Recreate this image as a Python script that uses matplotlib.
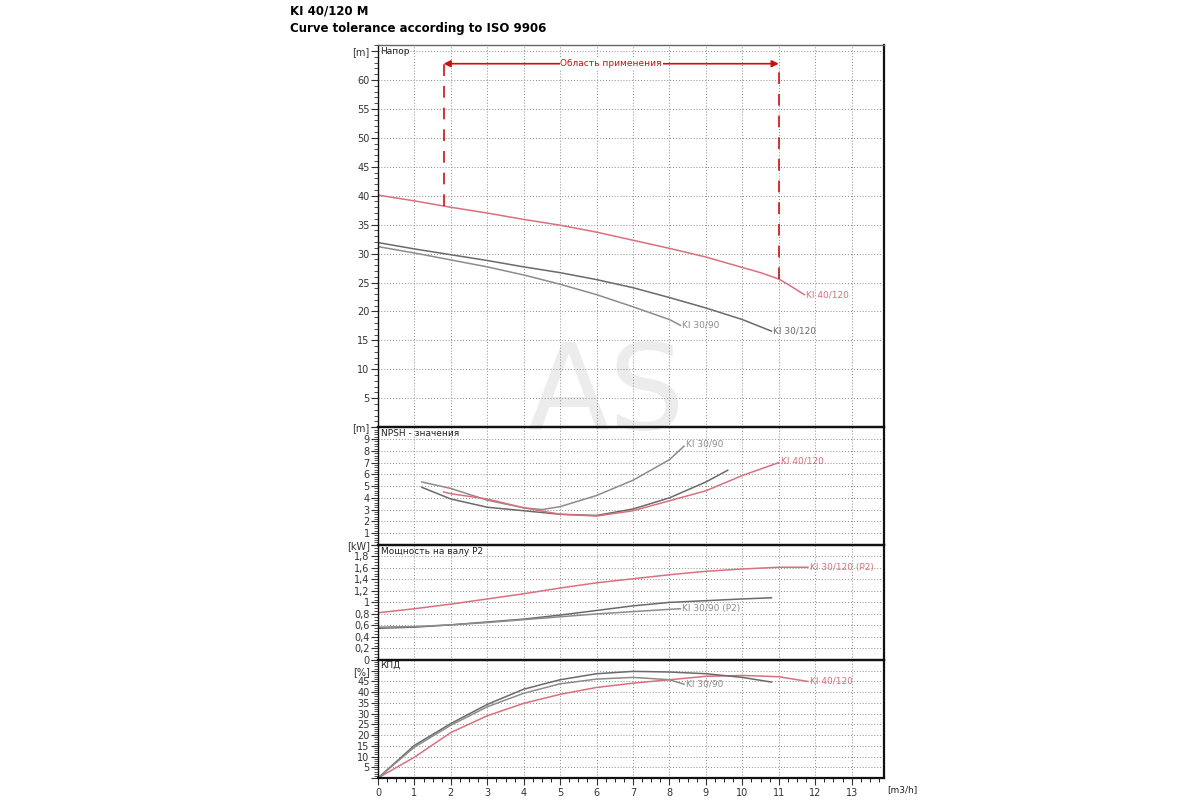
import numpy as np
import matplotlib.pyplot as plt
from matplotlib.ticker import MultipleLocator, FuncFormatter

# flow, m3/h
q_40_120 = [0, 1, 2, 3, 4, 5, 6, 7, 8, 9, 10, 10.5, 11, 11.3, 11.7]
q_30_120 = [0, 1, 2, 3, 4, 5, 6, 7, 8, 9, 10, 10.8]
q_30_90 = [0, 1, 2, 3, 4, 5, 6, 7, 8, 8.3]

# head, m
h_40_120 = [40.1, 39.1, 38.0, 37.0, 35.9, 34.9, 33.7, 32.3, 30.9, 29.4, 27.6, 26.7, 25.6, 24.5, 22.9]
h_30_120 = [31.9, 30.8, 29.8, 28.8, 27.7, 26.7, 25.5, 24.1, 22.4, 20.6, 18.6, 16.6]
h_30_90 = [31.2, 30.1, 28.9, 27.7, 26.3, 24.7, 22.9, 20.8, 18.6, 17.6]

# NPSH, m
npsh_q_40_120 = [1.8, 2, 3, 4, 5, 6, 7, 8, 9, 10, 11]
npsh_40_120 = [4.5, 4.35, 3.9, 3.15, 2.6, 2.45, 2.9, 3.75, 4.6, 5.9, 7.0]
npsh_q_30_120 = [1.2, 2, 3, 4, 5, 6, 7, 8, 9, 9.6]
npsh_30_120 = [4.9, 3.9, 3.2, 2.9, 2.6, 2.5, 3.05, 4.0, 5.35, 6.35]
npsh_q_30_90 = [1.2, 2, 3, 4, 4.5, 5, 6, 7, 8, 8.4]
npsh_30_90 = [5.35, 4.8, 3.8, 3.15, 3.0, 3.25, 4.2, 5.5, 7.25, 8.4]

# shaft power P2, kW
p_q_40_120 = [0, 1, 2, 3, 4, 5, 6, 7, 8, 9, 10, 11, 11.8]
p_40_120 = [0.82, 0.89, 0.97, 1.06, 1.15, 1.25, 1.34, 1.41, 1.48, 1.54, 1.58, 1.61, 1.61]
p_30_120 = [0.55, 0.57, 0.61, 0.66, 0.71, 0.78, 0.86, 0.94, 1.0, 1.03, 1.06, 1.08]
p_30_90 = [0.57, 0.58, 0.61, 0.65, 0.70, 0.75, 0.80, 0.84, 0.88, 0.89]

# efficiency, %
e_q_40_120 = [0, 1, 2, 3, 4, 5, 6, 7, 8, 9, 10, 11, 11.8]
e_40_120 = [0, 9.7, 21.2, 29.0, 34.8, 39.0, 42.2, 44.2, 45.8, 47.4, 47.8, 47.2, 45.0]
e_30_120 = [0, 15.2, 25.4, 34.3, 41.4, 45.8, 48.6, 49.7, 49.4, 48.6, 46.9, 44.7]
e_q_30_90 = [0, 1, 2, 3, 4, 5, 6, 7, 8, 8.4]
e_30_90 = [0, 14.4, 24.6, 33.2, 39.5, 43.9, 46.1, 46.9, 45.8, 43.7]

range_q = [1.8, 11.0]
range_top = 62.8

red = "#d9707e"
gray_dark = "#6a6a6a"
gray_light = "#8c8c8c"
range_red = "#cc1010"

fig = plt.figure(figsize=(12, 8), dpi=100)
fig.patch.set_facecolor("white")

left, width = 0.315, 0.422
panels = [
    (0.466, 0.4775),   # head
    (0.319, 0.1475),   # NPSH
    (0.175, 0.144),    # power
    (0.0275, 0.1475),  # efficiency
]
axes = [fig.add_axes([left, b, width, h]) for b, h in panels]
ax_h, ax_n, ax_p, ax_e = axes


def style(ax, ymax, major, minor, title):
    ax.set_facecolor("none")
    ax.set_xlim(0, 13.9)
    ax.set_ylim(0, ymax)
    ax.xaxis.set_major_locator(MultipleLocator(1))
    ax.yaxis.set_major_locator(MultipleLocator(major))
    ax.yaxis.set_minor_locator(MultipleLocator(minor))
    ax.grid(True, which="major", color="#8a8a8a", linestyle=(0, (1, 2)), linewidth=0.7)
    ax.tick_params(axis="y", which="major", direction="out", length=5, width=0.8,
                   labelsize=7, colors="#333333", pad=1)
    ax.tick_params(axis="y", which="minor", direction="out", length=3, width=0.6, colors="#333333")
    ax.tick_params(axis="x", which="both", bottom=False, labelbottom=False)
    for s in ["left", "top", "bottom", "right"]:
        ax.spines[s].set_color("#111111")
        ax.spines[s].set_linewidth(1.6)
    ax.spines["left"].set_linewidth(1.0)
    ax.text(0.005, 0.995 if ymax > 20 else 0.985, title, transform=ax.transAxes,
            fontsize=6.5, va="top", ha="left", color="#222222")


def fmt(unit_at, unit, hide_zero=False, comma=False):
    def f(v, p):
        if abs(v - unit_at) < 1e-6:
            return unit
        if v > unit_at + 1e-6 or (hide_zero and abs(v) < 1e-6):
            return ""
        s = "%g" % round(v, 2)
        return s.replace(".", ",") if comma else s
    return FuncFormatter(f)


style(ax_h, 66, 5, 1, "Напор")
style(ax_n, 10.05, 1, 0.2, "NPSH - значения")
style(ax_p, 2.0, 0.2, 0.05, "Мощность на валу P2")
style(ax_e, 55, 5, 1, "КПД")
ax_h.spines["top"].set_color("#666666")
ax_h.spines["top"].set_linewidth(1.0)
ax_h.yaxis.set_major_formatter(fmt(65, "[m]", hide_zero=True))
ax_n.yaxis.set_major_formatter(fmt(10, "[m]", hide_zero=True))
ax_p.yaxis.set_major_formatter(fmt(2.0, "[kW]", comma=True))
ax_e.yaxis.set_major_formatter(fmt(50, "[%]", hide_zero=True))

# bottom x axis on efficiency panel
ax_e.xaxis.set_minor_locator(MultipleLocator(0.25))
ax_e.tick_params(axis="x", which="major", bottom=True, labelbottom=True, direction="out",
                 length=5, width=0.8, labelsize=7, colors="#333333", pad=2)
ax_e.tick_params(axis="x", which="minor", bottom=True, direction="out", length=3, width=0.6)
ax_e.text(1.005, -0.06, "[m3/h]", transform=ax_e.transAxes, fontsize=6.5, va="top",
          ha="left", color="#222222")

lw = 1.1


def lab(ax, x, y, text, color, dx=0.05, dy=0.0):
    ax.text(x + dx, y + dy, text, fontsize=6.5, color=color, va="center", ha="left")


# head
ax_h.plot(q_40_120, h_40_120, color=red, lw=lw)
ax_h.plot(q_30_120, h_30_120, color=gray_dark, lw=lw)
ax_h.plot(q_30_90, h_30_90, color=gray_light, lw=lw)
lab(ax_h, q_40_120[-1], h_40_120[-1], "KI 40/120", red)
lab(ax_h, q_30_120[-1], h_30_120[-1], "KI 30/120", gray_dark)
lab(ax_h, q_30_90[-1], h_30_90[-1], "KI 30/90", gray_light)

# application range
h_at_lo = np.interp(range_q[0], q_40_120, h_40_120)
h_at_hi = np.interp(range_q[1], q_40_120, h_40_120)
ax_h.plot([range_q[0]] * 2, [h_at_lo, range_top], color=range_red, lw=1.2, dashes=(7, 6))
ax_h.plot([range_q[1]] * 2, [h_at_hi, range_top], color=range_red, lw=1.2, dashes=(7, 6))
ax_h.annotate("", xy=(range_q[1], range_top), xytext=(range_q[0], range_top),
              arrowprops=dict(arrowstyle="<|-|>", color=range_red, lw=1.2,
                              mutation_scale=10, shrinkA=0, shrinkB=0))
ax_h.text(sum(range_q) / 2, range_top, "Область применения", fontsize=6.5, color=range_red,
          ha="center", va="center",
          bbox=dict(facecolor="white", edgecolor="none", pad=0.5))

# NPSH
ax_n.plot(npsh_q_30_90, npsh_30_90, color=gray_light, lw=lw)
ax_n.plot(npsh_q_30_120, npsh_30_120, color=gray_dark, lw=lw)
ax_n.plot(npsh_q_40_120, npsh_40_120, color=red, lw=lw)
lab(ax_n, npsh_q_30_90[-1], npsh_30_90[-1], "KI 30/90", gray_light, dy=0.2)
lab(ax_n, npsh_q_40_120[-1], npsh_40_120[-1], "KI 40/120", red, dy=0.1)

# power
ax_p.plot(p_q_40_120, p_40_120, color=red, lw=lw)
ax_p.plot(q_30_120, p_30_120, color=gray_dark, lw=lw)
ax_p.plot(q_30_90, p_30_90, color=gray_light, lw=lw)
lab(ax_p, p_q_40_120[-1], p_40_120[-1], "KI 30/120 (P2)", red)
lab(ax_p, q_30_90[-1], p_30_90[-1], "KI 30/90 (P2)", gray_light)

# efficiency
ax_e.plot(e_q_40_120, e_40_120, color=red, lw=lw)
ax_e.plot(q_30_120, e_30_120, color=gray_dark, lw=lw)
ax_e.plot(e_q_30_90, e_30_90, color=gray_light, lw=lw)
lab(ax_e, e_q_40_120[-1], e_40_120[-1], "KI 40/120", red)
lab(ax_e, e_q_30_90[-1], e_30_90[-1], "KI 30/90", gray_light)

# header
fig.text(0.242, 0.994, "KI 40/120 M", fontsize=8.5, fontweight="bold", va="top", ha="left")
fig.text(0.242, 0.973, "Curve tolerance according to ISO 9906", fontsize=8.5,
         fontweight="bold", va="top", ha="left")

# watermark
fig.text(0.505, 0.505, "AS", fontsize=86, color="#ececec", ha="center", va="center", zorder=-1)

fig.savefig("out.png", dpi=100, facecolor="white")
